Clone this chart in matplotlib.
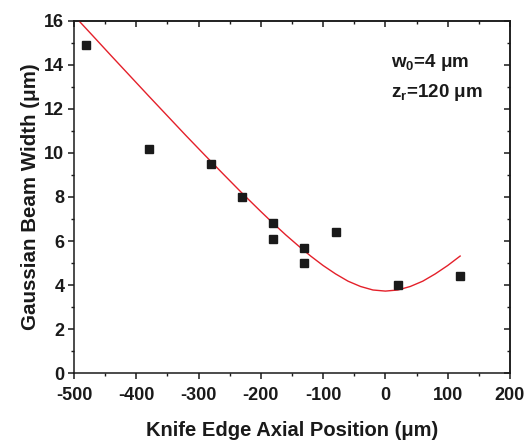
import numpy as np
import matplotlib
matplotlib.use("Agg")
import matplotlib.pyplot as plt
from matplotlib.ticker import MultipleLocator

plt.rcParams['font.family'] = ['Liberation Sans', 'DejaVu Sans']
plt.rcParams['font.weight'] = 'bold'
plt.rcParams['axes.labelweight'] = 'bold'
plt.rcParams['axes.unicode_minus'] = False
plt.rcParams['mathtext.fontset'] = 'custom'
plt.rcParams['mathtext.rm'] = 'Liberation Sans:bold'
plt.rcParams['mathtext.bf'] = 'Liberation Sans:bold'

INK = '#1a1a1a'

# knife edge measurements
z_meas = [-480, -380, -280, -230, -180, -180, -130, -130, -80, 20, 120]
w_meas = [14.9, 10.2, 9.5, 8.0, 6.8, 6.1, 5.7, 5.0, 6.4, 4.0, 4.4]

# fitted beam width curve
z_fit = [-493, -470, -440, -410, -380, -350, -320, -290, -260, -230, -200,
         -180, -160, -140, -120, -100, -80, -60, -40, -20, 0,
         20, 40, 60, 80, 100, 120]
w_fit = [16.02, 15.32, 14.40, 13.49, 12.58, 11.68, 10.78, 9.90, 9.03, 8.17, 7.34,
         6.80, 6.28, 5.79, 5.32, 4.89, 4.51, 4.18, 3.94, 3.78, 3.73,
         3.78, 3.94, 4.18, 4.51, 4.89, 5.32]

fig = plt.figure(figsize=(5.29, 4.40), dpi=100)
ax = fig.add_axes([0.1399, 0.1516, 0.8241, 0.8014])

ax.plot(z_fit, w_fit, color='#e4202a', lw=1.0)
ax.plot(z_meas, w_meas, 's', color=INK, ms=5.6, mec=INK)

ax.set_xlim(-500, 200)
ax.set_ylim(0, 16)
ax.xaxis.set_major_locator(MultipleLocator(100))
ax.xaxis.set_minor_locator(MultipleLocator(50))
ax.yaxis.set_major_locator(MultipleLocator(2))
ax.yaxis.set_minor_locator(MultipleLocator(1))

for s in ax.spines.values():
    s.set_linewidth(1.1)
    s.set_color(INK)

ax.tick_params(which='major', direction='out', length=4, width=1.1,
               labelsize=13, color=INK, labelcolor=INK)
ax.tick_params(which='minor', direction='out', length=2.2, width=1.0, color=INK)
ax.tick_params(axis='x', which='major', pad=6)
ax.tick_params(axis='y', which='major', pad=3)

# mirrored axes with inward ticks
top = ax.secondary_xaxis('top')
top.xaxis.set_major_locator(MultipleLocator(100))
top.xaxis.set_minor_locator(MultipleLocator(50))
top.tick_params(which='major', direction='in', length=4, width=1.1, labeltop=False, color=INK)
top.tick_params(which='minor', direction='in', length=2.2, width=1.0, color=INK)
right = ax.secondary_yaxis('right')
right.yaxis.set_major_locator(MultipleLocator(2))
right.yaxis.set_minor_locator(MultipleLocator(1))
right.tick_params(which='major', direction='in', length=4, width=1.1, labelright=False, color=INK)
right.tick_params(which='minor', direction='in', length=2.2, width=1.0, color=INK)
for sec in (top, right):
    for s in sec.spines.values():
        s.set_linewidth(1.1)
        s.set_color(INK)

ax.set_xlabel('Knife Edge Axial Position (\u03bcm)', fontsize=14.5, color=INK, labelpad=12)
ax.set_ylabel('Gaussian Beam Width (\u03bcm)', fontsize=14.8, color=INK, labelpad=3)

ax.text(0.728, 0.881, 'w$_\\mathrm{0}$=4 \u03bcm', transform=ax.transAxes,
        fontsize=13.5, color=INK, va='center')
ax.text(0.728, 0.797, 'z$_\\mathrm{r}$=120 \u03bcm', transform=ax.transAxes,
        fontsize=13.5, color=INK, va='center')

fig.savefig('out.png', dpi=100)
